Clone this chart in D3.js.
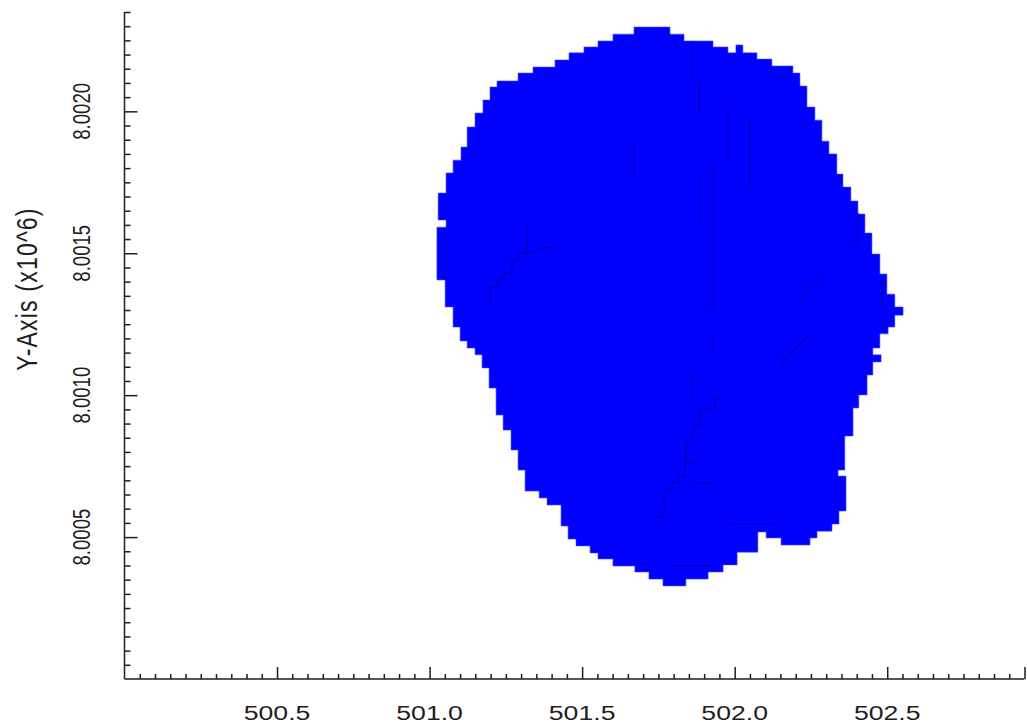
<!DOCTYPE html>
<html>
<head>
<meta charset="utf-8">
<script src="https://cdn.jsdelivr.net/npm/d3@7"></script>
<style>
  html, body { margin: 0; padding: 0; background: #ffffff; }
  svg { display: block; }
  text { font-family: "Liberation Sans", Arial, sans-serif; fill: #1e1e1e; }
</style>
</head>
<body>
<svg id="chart" width="1027" height="725"></svg>
<script>
// Axis ranges (y values are raw units, labelled in millions)
const xDomain = [500.0, 502.95];
const yDomain = [8000000, 8002350];

// Labelled ticks
const xMajorTicks = [500.5, 501.0, 501.5, 502.0, 502.5];
const xTickLabels = ["500.5", "501.0", "501.5", "502.0", "502.5"];
const yMajorTicks = [8000500, 8001000, 8001500, 8002000];
const yTickLabels = ["8.0005", "8.0010", "8.0015", "8.0020"];
const yAxisTitle = "Y-Axis (x10^6)";

// Outline of the filled coverage region: [x, y] corners, traced clockwise
const regionOutline = [
  [501.221, 8002107], [501.290, 8002107], [501.290, 8002135], [501.339, 8002135],
  [501.339, 8002156], [501.411, 8002156], [501.411, 8002181], [501.457, 8002181],
  [501.457, 8002206], [501.506, 8002206], [501.506, 8002227], [501.552, 8002227],
  [501.552, 8002248], [501.601, 8002248], [501.601, 8002272], [501.670, 8002272],
  [501.670, 8002297], [501.788, 8002297], [501.788, 8002272], [501.834, 8002272],
  [501.834, 8002248], [501.929, 8002248], [501.929, 8002227], [501.978, 8002227],
  [501.978, 8002206], [502.004, 8002206], [502.004, 8002234], [502.027, 8002234],
  [502.027, 8002206], [502.073, 8002206], [502.073, 8002184], [502.122, 8002184],
  [502.122, 8002160], [502.191, 8002160], [502.191, 8002135], [502.214, 8002135],
  [502.214, 8002089], [502.237, 8002089], [502.237, 8002015], [502.263, 8002015],
  [502.263, 8001969], [502.286, 8001969], [502.286, 8001895], [502.309, 8001895],
  [502.309, 8001850], [502.335, 8001850], [502.335, 8001779], [502.355, 8001779],
  [502.355, 8001733], [502.381, 8001733], [502.381, 8001684], [502.404, 8001684],
  [502.404, 8001638], [502.427, 8001638], [502.427, 8001571], [502.450, 8001571],
  [502.450, 8001497], [502.476, 8001497], [502.476, 8001427], [502.499, 8001427],
  [502.499, 8001356], [502.525, 8001356], [502.525, 8001311], [502.552, 8001311],
  [502.552, 8001282], [502.525, 8001282], [502.525, 8001240], [502.503, 8001240],
  [502.503, 8001216], [502.476, 8001216], [502.476, 8001166], [502.453, 8001166],
  [502.453, 8001142], [502.480, 8001142], [502.480, 8001117], [502.453, 8001117],
  [502.453, 8001071], [502.434, 8001071], [502.434, 8001001], [502.407, 8001001],
  [502.407, 8000955], [502.388, 8000955], [502.388, 8000856], [502.361, 8000856],
  [502.361, 8000736], [502.339, 8000736], [502.339, 8000715], [502.365, 8000715],
  [502.365, 8000592], [502.342, 8000592], [502.342, 8000546], [502.319, 8000546],
  [502.319, 8000521], [502.270, 8000521], [502.270, 8000497], [502.247, 8000497],
  [502.247, 8000472], [502.152, 8000472], [502.152, 8000497], [502.103, 8000497],
  [502.103, 8000518], [502.076, 8000518], [502.076, 8000447], [502.008, 8000447],
  [502.008, 8000402], [501.962, 8000402], [501.962, 8000377], [501.913, 8000377],
  [501.913, 8000352], [501.840, 8000352], [501.840, 8000328], [501.765, 8000328],
  [501.765, 8000352], [501.719, 8000352], [501.719, 8000377], [501.673, 8000377],
  [501.673, 8000398], [501.601, 8000398], [501.601, 8000423], [501.552, 8000423],
  [501.552, 8000444], [501.526, 8000444], [501.526, 8000469], [501.480, 8000469],
  [501.480, 8000493], [501.454, 8000493], [501.454, 8000539], [501.431, 8000539],
  [501.431, 8000613], [501.385, 8000613], [501.385, 8000638], [501.359, 8000638],
  [501.359, 8000662], [501.313, 8000662], [501.313, 8000736], [501.290, 8000736],
  [501.290, 8000807], [501.267, 8000807], [501.267, 8000877], [501.241, 8000877],
  [501.241, 8000930], [501.218, 8000930], [501.218, 8001025], [501.195, 8001025],
  [501.195, 8001096], [501.172, 8001096], [501.172, 8001142], [501.149, 8001142],
  [501.149, 8001166], [501.123, 8001166], [501.123, 8001191], [501.100, 8001191],
  [501.100, 8001240], [501.077, 8001240], [501.077, 8001311], [501.051, 8001311],
  [501.051, 8001406], [501.024, 8001406], [501.024, 8001592], [501.054, 8001592],
  [501.054, 8001617], [501.028, 8001617], [501.028, 8001712], [501.054, 8001712],
  [501.054, 8001783], [501.077, 8001783], [501.077, 8001828], [501.103, 8001828],
  [501.103, 8001874], [501.123, 8001874], [501.123, 8001945], [501.149, 8001945],
  [501.149, 8001994], [501.175, 8001994], [501.175, 8002040], [501.198, 8002040],
  [501.198, 8002086], [501.221, 8002086]
];

// Tile seams visible inside the region (overlapping cell borders)
const tileSeams = [
  [[501.860, 8002248], [501.860, 8002110]],
  [[501.883, 8002103], [501.883, 8001994]],
  [[501.978, 8002015], [501.978, 8001828]],
  [[502.050, 8001969], [502.050, 8001733]],
  [[501.932, 8001804], [501.932, 8001300]],
  [[501.886, 8001758], [501.886, 8001600]],
  [[501.670, 8001892], [501.670, 8001769]],
  [[502.404, 8001642], [502.404, 8001522]],
  [[502.483, 8001406], [502.483, 8001311]],
  [[501.319, 8001592], [501.319, 8001501]],
  [[501.860, 8001064], [501.860, 8000983]],
  [[501.929, 8001219], [501.929, 8001149]],
  [[501.198, 8001311], [501.198, 8001381], [501.221, 8001381], [501.221, 8001406],
   [501.244, 8001406], [501.244, 8001430], [501.270, 8001430], [501.270, 8001476],
   [501.290, 8001476], [501.290, 8001501], [501.339, 8001501], [501.362, 8001519],
   [501.408, 8001519]],
  [[501.840, 8000761], [501.840, 8000831], [501.863, 8000853], [501.863, 8000888],
   [501.886, 8000888], [501.886, 8000948], [501.913, 8000948], [501.935, 8000958],
   [501.935, 8000994], [501.958, 8000994]],
  [[502.148, 8001099], [502.171, 8001131], [502.198, 8001163], [502.221, 8001187],
   [502.240, 8001208]],
  [[502.214, 8001335], [502.240, 8001371], [502.263, 8001395], [502.289, 8001423]],
  [[501.863, 8000761], [501.837, 8000761], [501.837, 8000712], [501.818, 8000712],
   [501.818, 8000691], [501.795, 8000691], [501.795, 8000666], [501.772, 8000666],
   [501.765, 8000641], [501.772, 8000620], [501.765, 8000571], [501.745, 8000571]],
  [[501.985, 8000546], [502.126, 8000546]],
  [[501.795, 8000398], [501.935, 8000398]],
  [[501.863, 8000691], [501.929, 8000691]]
];

const svg = d3.select("#chart");

const x = d3.scaleLinear().domain(xDomain).range([124.5, 1024.5]);
const y = d3.scaleLinear().domain(yDomain).range([679, 12]);

const axisColor = "#1e1e1e";

// Filled region
const line = d3.line().x(d => x(d[0])).y(d => y(d[1]));
svg.append("path")
  .attr("d", line(regionOutline) + "Z")
  .attr("fill", "#0000ff")
  .attr("stroke", "#4a4aff")
  .attr("stroke-width", 0.6);

// Seams between tiles
svg.append("g")
  .selectAll("path")
  .data(tileSeams)
  .join("path")
  .attr("d", d => line(d))
  .attr("fill", "none")
  .attr("stroke", "#00009a")
  .attr("stroke-width", 1);

// Tick positions: minor every 0.05 on x, every 50 raw units on y
const xMinor = d3.range(1, 60).map(i => +(xDomain[0] + i * 0.05).toFixed(2));
const yMinor = d3.range(1, 48).map(i => yDomain[0] + i * 50);
const isXMajor = v => xMajorTicks.some(m => Math.abs(m - v) < 1e-6) || v >= 502.95 - 1e-6;
const isYMajor = v => yMajorTicks.includes(v);

// X axis: ticks pointing inward (up)
const gx = svg.append("g").attr("transform", "translate(0,679)");
gx.call(d3.axisTop(x).tickValues(xMinor).tickSizeOuter(0).tickFormat(""));
gx.selectAll(".tick line")
  .attr("y2", d => isXMajor(d) ? -12 : -5);
gx.select(".domain").attr("d", `M${x(xDomain[0])},0H${x(xDomain[1])}`);
gx.selectAll("line, path").attr("stroke", axisColor).attr("stroke-width", 1.5);

// Y axis: ticks pointing inward (right)
const gy = svg.append("g").attr("transform", "translate(124.5,0)");
gy.call(d3.axisRight(y).tickValues(yMinor).tickSizeOuter(0).tickFormat(""));
gy.selectAll(".tick line")
  .attr("x2", d => isYMajor(d) ? 13 : 6);
gy.select(".domain").attr("d", `M0,${y(yDomain[1])}V${y(yDomain[0])}`);
gy.selectAll("line, path").attr("stroke", axisColor).attr("stroke-width", 1.5);

// X tick labels
svg.append("g")
  .selectAll("text")
  .data(xMajorTicks)
  .join("text")
  .attr("transform", d => `translate(${x(d)},720) scale(1.3,1)`)
  .attr("text-anchor", "middle")
  .style("font-size", "20.5px")
  .text((d, i) => xTickLabels[i]);

// Y tick labels, rotated
svg.append("g")
  .selectAll("text")
  .data(yMajorTicks)
  .join("text")
  .attr("transform", d => `translate(90,${y(d)}) scale(1.3,1) rotate(-90)`)
  .attr("text-anchor", "middle")
  .style("font-size", "18.6px")
  .text((d, i) => yTickLabels[i]);

// Y axis title
svg.append("text")
  .attr("transform", "translate(37,289) scale(1.3,1) rotate(-90)")
  .attr("text-anchor", "middle")
  .style("font-size", "23px")
  .style("letter-spacing", "1.2px")
  .text(yAxisTitle);
</script>
</body>
</html>
